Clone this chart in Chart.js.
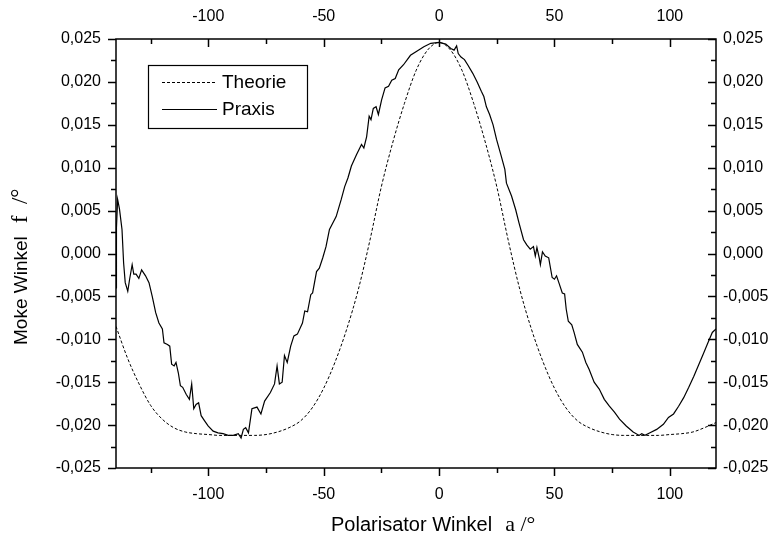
<!DOCTYPE html>
<html><head><meta charset="utf-8">
<script src="https://cdn.jsdelivr.net/npm/chart.js@4.4.1/dist/chart.umd.min.js"></script>
<style>html,body{margin:0;padding:0;background:#fff;overflow:hidden}#wrap{width:769px;height:539px}</style>
</head><body><div id="wrap"><canvas id="c" width="769" height="539"></canvas></div>
<script>
// ---- data ----
const xTickValues = [-100, -50, 0, 50, 100];
const xMinorTickValues = [-125, -75, -25, 25, 75];
const yTickValues = [-0.025, -0.020, -0.015, -0.010, -0.005, 0.000, 0.005, 0.010, 0.015, 0.020, 0.025];
const yMinorTickValues = [-0.0225, -0.0175, -0.0125, -0.0075, -0.0025, 0.0025, 0.0075, 0.0125, 0.0175, 0.0225];

const theorieX = [-140,-135,-130,-125,-120,-115,-110,-105,-100,-95,-90,-85,-80,-75,-70,-65,-60,-55,-50,-45,-40,-35,-30,-25,-20,-15,-10,-5,0,5,10,15,20,25,30,35,40,45,50,55,60,65,70,75,80,85,90,95,100,105,110,115,120];
const theorieY = [-0.0085,-0.0122,-0.0152,-0.0177,-0.0193,-0.0203,-0.0208,-0.0210,-0.0211,-0.0212,-0.0212,-0.0212,-0.0212,-0.0211,-0.0208,-0.0203,-0.0195,-0.0180,-0.0157,-0.0126,-0.0088,-0.0042,0.0015,0.0078,0.0130,0.0175,0.0213,0.0237,0.0246,0.0237,0.0213,0.0175,0.0130,0.0078,0.0015,-0.0042,-0.0088,-0.0126,-0.0157,-0.0180,-0.0195,-0.0203,-0.0208,-0.0211,-0.0212,-0.0212,-0.0212,-0.0212,-0.0211,-0.0210,-0.0208,-0.0203,-0.0197];

const praxisX = [-140.0,-139.8,-139.3,-138.5,-137.4,-136.7,-136.0,-134.9,-134.1,-133.0,-132.3,-131.3,-130.1,-128.9,-127.2,-125.7,-124.3,-122.8,-121.4,-119.9,-119.2,-117.7,-116.7,-115.9,-114.8,-114.0,-113.0,-112.1,-111.1,-109.6,-108.2,-107.2,-106.3,-105.3,-104.2,-103.1,-101.6,-100.1,-97.9,-95.8,-93.6,-91.4,-89.2,-87.0,-85.8,-84.8,-83.8,-82.6,-81.1,-78.9,-77.2,-75.6,-73.1,-71.3,-70.2,-69.2,-68.0,-67.0,-65.8,-64.3,-62.9,-61.4,-59.2,-58.2,-57.0,-55.6,-54.8,-53.1,-51.9,-50.4,-49.0,-47.5,-44.6,-42.4,-40.9,-39.5,-38.0,-35.8,-33.6,-32.6,-31.4,-30.3,-29.5,-28.5,-27.3,-26.3,-24.9,-23.4,-21.9,-20.5,-19.0,-17.5,-15.4,-12.4,-9.5,-6.6,-3.6,0.0,2.9,5.1,6.5,7.6,8.3,9.5,11.0,12.4,14.6,16.5,18.3,19.4,20.5,21.9,23.4,24.9,27.0,28.5,29.2,31.4,33.2,34.6,36.6,38.0,39.5,40.9,41.7,42.4,43.4,43.9,44.8,46.0,47.5,49.0,50.0,50.9,51.9,53.4,54.4,55.1,56.0,57.5,58.5,59.9,62.1,63.6,65.0,67.2,69.4,71.6,73.8,76.0,78.2,81.1,84.1,86.7,87.8,89.2,91.4,94.3,97.2,99.4,101.6,103.8,106.0,108.2,110.4,112.6,114.8,116.5,118.4,120.0];
const praxisY = [-0.0040,0.0030,0.0063,0.0052,0.0028,-0.0011,-0.0034,-0.0044,-0.0030,-0.0013,-0.0024,-0.0024,-0.0029,-0.0019,-0.0026,-0.0034,-0.0050,-0.0069,-0.0081,-0.0088,-0.0104,-0.0106,-0.0108,-0.0129,-0.0131,-0.0127,-0.0139,-0.0154,-0.0156,-0.0164,-0.0170,-0.0152,-0.0181,-0.0176,-0.0174,-0.0189,-0.0195,-0.0201,-0.0207,-0.0209,-0.0210,-0.0212,-0.0212,-0.0210,-0.0215,-0.0205,-0.0203,-0.0209,-0.0181,-0.0179,-0.0187,-0.0172,-0.0162,-0.0152,-0.0131,-0.0152,-0.0150,-0.0119,-0.0127,-0.0108,-0.0096,-0.0094,-0.0081,-0.0067,-0.0068,-0.0048,-0.0046,-0.0021,-0.0017,-0.0005,0.0008,0.0028,0.0043,0.0063,0.0078,0.0088,0.0102,0.0115,0.0127,0.0123,0.0136,0.0160,0.0156,0.0169,0.0171,0.0162,0.0179,0.0193,0.0195,0.0202,0.0204,0.0214,0.0220,0.0231,0.0236,0.0241,0.0245,0.0246,0.0244,0.0239,0.0237,0.0242,0.0233,0.0229,0.0226,0.0220,0.0210,0.0200,0.0189,0.0183,0.0171,0.0162,0.0150,0.0133,0.0113,0.0098,0.0082,0.0067,0.0051,0.0036,0.0016,0.0010,0.0005,0.0008,-0.0003,0.0007,-0.0005,-0.0013,0.0002,-0.0003,-0.0005,-0.0028,-0.0030,-0.0026,-0.0034,-0.0046,-0.0047,-0.0065,-0.0079,-0.0083,-0.0092,-0.0106,-0.0115,-0.0127,-0.0135,-0.0150,-0.0158,-0.0170,-0.0178,-0.0185,-0.0193,-0.0201,-0.0208,-0.0212,-0.0210,-0.0212,-0.0209,-0.0205,-0.0199,-0.0191,-0.0187,-0.0178,-0.0168,-0.0156,-0.0143,-0.0129,-0.0115,-0.0104,-0.0092,-0.0088];

const seriesLabels = ['Theorie', 'Praxis'];
const xTitleText = 'Polarisator Winkel';
const xTitleSymbol = 'a /°';
const yTitleText = 'Moke Winkel';
const yTitleSymbol = 'f  /°';

// ---- chart ----
const FONT = "'Liberation Sans', Arial, sans-serif";
const SERIF = "'Liberation Serif', 'Times New Roman', serif";
const toPts = (xs, ys) => xs.map((x, i) => ({x: x, y: ys[i]}));
const fmtY = v => (Math.abs(v) < 1e-9 ? 0 : v).toFixed(3).replace('.', ',');
const setTicks = vals => s => { s.ticks = vals.map(v => ({value: v})); };

const tickMarks = {
  id: 'tickMarks',
  afterDraw(chart) {
    const ctx = chart.ctx, a = chart.chartArea, sc = chart.scales;
    ctx.save();
    ctx.strokeStyle = '#000';
    ctx.lineWidth = 1.5;
    ctx.strokeRect(a.left, a.top, a.right - a.left, a.bottom - a.top);
    const MAJ = 8, MIN = 5;
    const drawX = (vals, len) => vals.forEach(v => {
      const px = Math.round(sc.x.getPixelForValue(v)) + 0.5;
      ctx.beginPath(); ctx.moveTo(px, a.bottom); ctx.lineTo(px, a.bottom + len); ctx.stroke();
      ctx.beginPath(); ctx.moveTo(px, a.top); ctx.lineTo(px, a.top + len); ctx.stroke();
    });
    const drawY = (vals, len) => vals.forEach(v => {
      const py = Math.round(sc.y.getPixelForValue(v)) + 0.5;
      ctx.beginPath(); ctx.moveTo(a.left, py); ctx.lineTo(a.left - len, py); ctx.stroke();
      ctx.beginPath(); ctx.moveTo(a.right, py); ctx.lineTo(a.right - len, py); ctx.stroke();
    });
    drawX(xTickValues, MAJ); drawX(xMinorTickValues, MIN);
    drawY(yTickValues, MAJ); drawY(yMinorTickValues, MIN);

    // axis titles (sans text followed by serif symbol part)
    ctx.fillStyle = '#000';
    ctx.textAlign = 'left'; ctx.textBaseline = 'alphabetic';
    ctx.font = '20px ' + FONT;
    const xw = ctx.measureText(xTitleText).width;
    const xStart = 331, xBase = 531;
    ctx.fillText(xTitleText, xStart, xBase);
    ctx.font = '22px ' + SERIF;
    ctx.fillText(xTitleSymbol, xStart + xw + 13, xBase);

    ctx.save();
    ctx.translate(27, 345);
    ctx.rotate(-Math.PI / 2);
    ctx.font = '19px ' + FONT;
    const yw = ctx.measureText(yTitleText).width;
    ctx.fillText(yTitleText, 0, 0);
    ctx.font = '23px ' + SERIF;
    ctx.fillText(yTitleSymbol, yw + 13, 0);
    ctx.restore();
    ctx.restore();
  }
};

const boxLegend = {
  id: 'boxLegend',
  afterDatasetsDraw(chart) {
    const ctx = chart.ctx;
    const bx = 148, by = 65, bw = 159, bh = 63;
    ctx.save();
    ctx.fillStyle = '#fff';
    ctx.fillRect(bx, by, bw, bh);
    ctx.strokeStyle = '#000'; ctx.lineWidth = 1.2;
    ctx.strokeRect(bx + 0.5, by + 0.5, bw, bh);
    chart.data.datasets.forEach((ds, i) => {
      const y = by + 17 + i * 27;
      ctx.beginPath();
      ctx.setLineDash(ds.borderDash || []);
      ctx.lineWidth = ds.borderWidth;
      ctx.strokeStyle = ds.borderColor;
      ctx.moveTo(bx + 14, y + 0.5); ctx.lineTo(bx + 69, y + 0.5); ctx.stroke();
      ctx.setLineDash([]);
      ctx.fillStyle = '#000';
      ctx.font = '19px ' + FONT;
      ctx.textBaseline = 'middle'; ctx.textAlign = 'left';
      ctx.fillText(ds.label, bx + 74, y + 1);
    });
    ctx.restore();
  }
};

const tickFont = {family: FONT, size: 16};
const noGrid = {display: false, drawTicks: false};
new Chart(document.getElementById('c'), {
  type: 'line',
  data: {
    datasets: [
      {label: seriesLabels[0], data: toPts(theorieX, theorieY), borderColor: '#000', borderWidth: 1, borderDash: [3, 2], pointRadius: 0, cubicInterpolationMode: 'monotone', fill: false},
      {label: seriesLabels[1], data: toPts(praxisX, praxisY), borderColor: '#000', borderWidth: 1.2, pointRadius: 0, tension: 0, fill: false}
    ]
  },
  options: {
    responsive: false, animation: false, devicePixelRatio: 1,
    layout: {padding: 0},
    plugins: {legend: {display: false}, tooltip: {enabled: false}},
    scales: {
      x: {type: 'linear', position: 'bottom', min: -140, max: 120,
          grid: noGrid, border: {display: false},
          afterBuildTicks: setTicks(xTickValues), afterFit: s => { s.height = 71; },
          ticks: {font: tickFont, color: '#000', padding: 17, maxRotation: 0, autoSkip: false, callback: v => String(v)}},
      x2: {type: 'linear', axis: 'x', position: 'top', min: -140, max: 120,
          grid: noGrid, border: {display: false},
          afterBuildTicks: setTicks(xTickValues), afterFit: s => { s.height = 39; },
          ticks: {font: tickFont, color: '#000', padding: 13, maxRotation: 0, autoSkip: false, callback: v => String(v)}},
      y: {type: 'linear', position: 'left', min: -0.025, max: 0.025,
          grid: noGrid, border: {display: false},
          afterBuildTicks: setTicks(yTickValues), afterFit: s => { s.width = 116; },
          ticks: {font: tickFont, color: '#000', padding: 15, autoSkip: false, callback: fmtY}},
      y2: {type: 'linear', axis: 'y', position: 'right', min: -0.025, max: 0.025,
          grid: noGrid, border: {display: false},
          afterBuildTicks: setTicks(yTickValues), afterFit: s => { s.width = 53; },
          ticks: {font: tickFont, color: '#000', padding: 7, autoSkip: false, callback: fmtY}}
    }
  },
  plugins: [tickMarks, boxLegend]
});
</script></body></html>
